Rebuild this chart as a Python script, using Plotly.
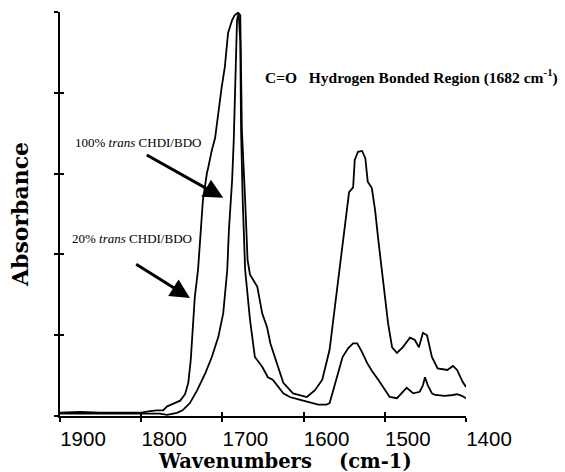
import plotly.graph_objects as go

# Wide-band spectrum (20% trans CHDI/BDO) - tall band near 1530
wn_20 = [1900, 1875, 1851, 1826, 1802, 1789, 1781, 1773, 1768, 1761, 1752, 1746, 1742, 1739,
         1736, 1734, 1730, 1724, 1719, 1718, 1713, 1709, 1701, 1697, 1693, 1688, 1685, 1681,
         1678, 1677, 1676, 1672, 1670, 1669, 1666, 1657, 1651, 1645, 1641, 1633, 1625, 1613,
         1604, 1596, 1586, 1577, 1568, 1564, 1558, 1552, 1547, 1544, 1539, 1537, 1533, 1528,
         1524, 1521, 1516, 1512, 1508, 1504, 1500, 1496, 1491, 1485, 1478, 1469, 1463, 1458,
         1453, 1448, 1442, 1435, 1423, 1416, 1411, 1404, 1400]
abs_20 = [0.04, 0.05, 0.04, 0.04, 0.04, 0.06, 0.07, 0.07, 0.12, 0.15, 0.19, 0.27, 0.41, 0.69,
          1.19, 1.47, 1.81, 2.67, 3.01, 3.05, 3.29, 3.44, 4.06, 4.32, 4.74, 4.90, 4.96, 4.99,
          4.96, 4.41, 3.54, 2.67, 2.18, 1.93, 1.75, 1.60, 1.27, 1.10, 0.90, 0.66, 0.41, 0.28,
          0.26, 0.235, 0.32, 0.45, 0.82, 1.15, 1.62, 2.18, 2.59, 2.77, 2.83, 3.17, 3.27, 3.28,
          3.19, 2.90, 2.82, 2.55, 2.18, 1.84, 1.44, 1.15, 0.85, 0.78, 0.85, 0.97, 0.94, 0.85,
          1.03, 1.00, 0.73, 0.59, 0.57, 0.62, 0.57, 0.42, 0.36]

# Narrow-band spectrum (100% trans CHDI/BDO) - small band near 1535
wn_100 = [1900, 1851, 1802, 1777, 1768, 1756, 1749, 1740, 1731, 1721, 1713, 1705, 1699, 1694,
          1692, 1688, 1686, 1684.5, 1683, 1682, 1680, 1678, 1677, 1675, 1672, 1666, 1660, 1651,
          1644, 1638, 1625, 1617, 1604, 1592, 1582, 1572, 1568, 1564, 1558, 1552, 1545, 1539,
          1534, 1528, 1522, 1516, 1508, 1500, 1494, 1485, 1479, 1473, 1465, 1457, 1453, 1450.5,
          1447, 1442, 1438, 1426, 1416, 1411, 1405, 1400]
abs_100 = [0.03, 0.03, 0.03, 0.03, 0.015, 0.04, 0.07, 0.16, 0.32, 0.53, 0.73, 0.98, 1.27, 1.81,
           2.30, 2.92, 3.42, 3.91, 4.41, 4.90, 4.99, 4.65, 3.54, 2.67, 1.81, 1.19, 0.73, 0.61,
           0.48, 0.45, 0.28, 0.235, 0.20, 0.17, 0.14, 0.14, 0.16, 0.30, 0.51, 0.73, 0.84, 0.90,
           0.90, 0.79, 0.66, 0.56, 0.45, 0.32, 0.235, 0.22, 0.28, 0.35, 0.28, 0.30, 0.38, 0.48,
           0.38, 0.28, 0.26, 0.25, 0.26, 0.27, 0.25, 0.22]

x_ticks = [1900, 1800, 1700, 1600, 1500, 1400]
y_ticks = [0, 1, 2, 3, 4, 5]

fig = go.Figure()
fig.add_trace(go.Scatter(x=wn_20, y=abs_20, mode="lines",
                         line=dict(color="black", width=1.8), name="20% trans CHDI/BDO"))
fig.add_trace(go.Scatter(x=wn_100, y=abs_100, mode="lines",
                         line=dict(color="black", width=1.8), name="100% trans CHDI/BDO"))
# empty trace so the overlay axes (inner half of crossing ticks) are drawn
fig.add_trace(go.Scatter(x=[], y=[], xaxis="x2", yaxis="y2", showlegend=False))

serif = "Liberation Serif"
fig.update_layout(
    width=565, height=472,
    margin=dict(l=60, r=99, t=12, b=56, autoexpand=False),
    paper_bgcolor="white", plot_bgcolor="white",
    showlegend=False,
    xaxis=dict(range=[1900, 1400], tickvals=x_ticks, ticktext=[str(v) for v in x_ticks],
               showline=True, linecolor="black", linewidth=1.5,
               ticks="outside", ticklen=4, tickwidth=1.5, tickcolor="black",
               ticklabelshift=-23, ticklabelstandoff=0,
               tickfont=dict(family="Liberation Sans", size=20.5, color="black"),
               showgrid=False, zeroline=False, automargin=False),
    xaxis2=dict(range=[1900, 1400], overlaying="x", anchor="y", side="bottom",
                tickvals=x_ticks, ticks="inside", ticklen=4, tickwidth=1.5, tickcolor="black",
                showticklabels=False, showline=False, showgrid=False, zeroline=False),
    yaxis=dict(range=[0, 5], tickvals=y_ticks, showticklabels=False,
               showline=True, linecolor="black", linewidth=1.5,
               ticks="outside", ticklen=4, tickwidth=1.5, tickcolor="black",
               showgrid=False, zeroline=False, automargin=False,
               title=dict(text="Absorbance",
                          font=dict(family="DejaVu Serif", size=22, color="black", weight="bold"),
                          standoff=20)),
    yaxis2=dict(range=[0, 5], overlaying="y", anchor="x", side="left",
                tickvals=y_ticks, ticks="inside", ticklen=4, tickwidth=1.5, tickcolor="black",
                showticklabels=False, showline=False, showgrid=False, zeroline=False),
)

# x-axis title (placed slightly right of centre, as in the original)
fig.add_annotation(x=0.554, y=-0.1135, xref="paper", yref="paper", xanchor="center",
                   yanchor="middle", showarrow=False,
                   text="Wavenumbers\u00a0\u00a0\u00a0\u00a0(cm-1)",
                   font=dict(family="DejaVu Serif", size=19.5, color="black", weight="bold"))

fig.add_annotation(x=1884, y=3.39, xref="x", yref="y", xanchor="left", yanchor="middle",
                   text="100% <i>trans</i> CHDI/BDO", showarrow=False,
                   font=dict(family=serif, size=13, color="black"))
fig.add_annotation(x=1888, y=2.20, xref="x", yref="y", xanchor="left", yanchor="middle",
                   text="20% <i>trans</i> CHDI/BDO", showarrow=False,
                   font=dict(family=serif, size=13, color="black"))
fig.add_annotation(x=1650, y=4.20, xref="x", yref="y", xanchor="left", yanchor="middle",
                   text="C=O\u00a0\u00a0\u00a0Hydrogen Bonded Region (1682 cm<sup>-1</sup>)",
                   showarrow=False,
                   font=dict(family=serif, size=15.5, color="black", weight="bold"))

# arrows
fig.add_annotation(x=1699, y=2.70, ax=1795, ay=3.24, xref="x", yref="y", axref="x", ayref="y",
                   text="", showarrow=True, arrowhead=2, arrowsize=1.3, arrowwidth=3,
                   arrowcolor="black")
fig.add_annotation(x=1740, y=1.46, ax=1808, ay=1.89, xref="x", yref="y", axref="x", ayref="y",
                   text="", showarrow=True, arrowhead=2, arrowsize=1.3, arrowwidth=3,
                   arrowcolor="black")

fig.write_html("out.html")
